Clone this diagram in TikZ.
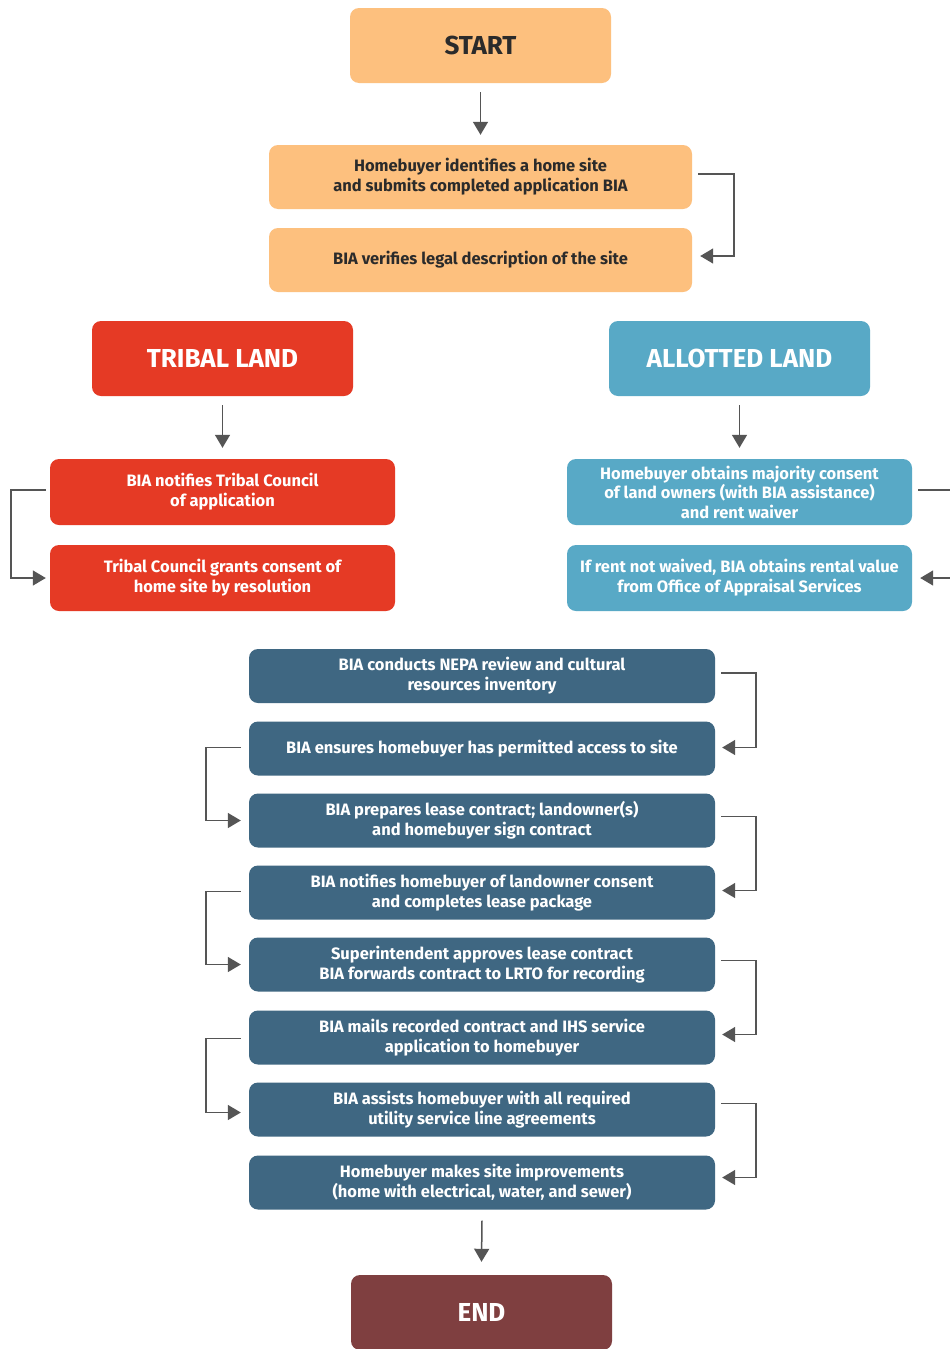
\documentclass[tikz,border=0pt]{standalone}
\usepackage{fontspec}
\setmainfont{Fira Sans}
\usetikzlibrary{arrows.meta,calc}
\definecolor{orng}{HTML}{FDC07E}
\definecolor{trib}{HTML}{E53A25}
\definecolor{allot}{HTML}{58A9C6}
\definecolor{navy}{HTML}{3F6782}
\definecolor{maroon}{HTML}{7F3F40}
\definecolor{lnc}{HTML}{555555}
\definecolor{dtxt}{HTML}{2B2B2B}
\tikzset{
  box/.style={rounded corners=9pt, inner sep=0pt, align=center, font=\bfseries\fontsize{16.5}{20}\selectfont},
  title/.style={box, minimum width=261pt, minimum height=75pt, font=\bfseries\fontsize{26}{30}\selectfont},
  obox/.style={box, fill=orng, text=dtxt, minimum width=423pt, minimum height=64pt},
  tbox/.style={box, fill=trib, text=white, minimum width=345pt, minimum height=66pt},
  abox/.style={box, fill=allot, text=white, minimum width=345pt, minimum height=66pt},
  nbox/.style={box, fill=navy, text=white, minimum width=466pt, minimum height=54pt},
  conn/.style={draw=lnc, line width=1.5pt, -{Triangle[width=15pt,length=13pt]}},
  link/.style={draw=lnc, line width=1.5pt}
}
\begin{document}
\begin{tikzpicture}[x=1pt,y=-1pt]
\useasboundingbox (0,0) rectangle (950,1349);
\fill[white] (0,0) rectangle (950,1349);
\node[title, fill=orng, text=dtxt] (start) at (480.5,45.5) {START};
\node[obox] (o1) at (480.5,177) {Homebuyer identifies a home site\\and submits completed application BIA};
\node[obox] (o2) at (480.5,260) {BIA verifies legal description of the site};
\node[title, fill=trib, text=white] (tribal) at (222.5,358.5) {TRIBAL LAND};
\node[title, fill=allot, text=white] (allotted) at (739.5,358.5) {ALLOTTED LAND};
\node[tbox] (t1) at (222.5,492) {BIA notifies Tribal Council\\of application};
\node[tbox] (t2) at (222.5,578) {Tribal Council grants consent of\\home site by resolution};
\node[abox, font=\bfseries\fontsize{16.5}{19.5}\selectfont] (a1) at (739.5,492) {Homebuyer obtains majority consent\\of land owners (with BIA assistance)\\and rent waiver};
\node[abox] (a2) at (739.5,578) {If rent not waived, BIA obtains rental value\\from Office of Appraisal Services};
\node[nbox] (n1) at (482,676) {BIA conducts NEPA review and cultural\\resources inventory};
\node[nbox] (n2) at (482,748.5) {BIA ensures homebuyer has permitted access to site};
\node[nbox] (n3) at (482,820.5) {BIA prepares lease contract; landowner(s)\\and homebuyer sign contract};
\node[nbox] (n4) at (482,892.5) {BIA notifies homebuyer of landowner consent\\and completes lease package};
\node[nbox] (n5) at (482,964.5) {Superintendent approves lease contract\\BIA forwards contract to LRTO for recording};
\node[nbox] (n6) at (482,1037.5) {BIA mails recorded contract and IHS service\\application to homebuyer};
\node[nbox] (n7) at (482,1109.5) {BIA assists homebuyer with all required\\utility service line agreements};
\node[nbox] (n8) at (482,1182.5) {Homebuyer makes site improvements\\(home with electrical, water, and sewer)};
\node[title, fill=maroon, text=white] (end) at (481.5,1312.5) {END};
% vertical arrows
\draw[conn] ([yshift=-9pt]start.south) -- ([yshift=10pt]o1.north);
\draw[conn] ([yshift=-9pt]tribal.south) -- ([yshift=11pt]t1.north);
\draw[conn] ([yshift=-9pt]allotted.south) -- ([yshift=11pt]a1.north);
\draw[conn] ([yshift=-11pt]n8.south) -- ([yshift=13pt]end.north);
% side connectors
\draw[conn] ([xshift=6pt,yshift=3pt]o1.east) -- ++(36,0) |- ([xshift=8pt,yshift=4pt]o2.east);
\draw[conn] ([xshift=-4pt,yshift=2pt]t1.west) -- ++(-35,0) |- ([xshift=-4pt]t2.west);
\draw[conn] ([xshift=6pt,yshift=2pt]a1.east) -- ++(45,0) |- ([xshift=8pt]a2.east);
\draw[conn] ([xshift=6pt,yshift=3pt]n1.east) -- ++(35,0) |- ([xshift=7pt,yshift=1pt]n2.east);
\draw[conn] ([xshift=-8pt,yshift=1pt]n2.west) -- ++(-35,0) |- ([xshift=-8pt]n3.west);
\draw[conn] ([xshift=6pt,yshift=4pt]n3.east) -- ++(35,0) |- ([xshift=7pt,yshift=2pt]n4.east);
\draw[conn] ([xshift=-8pt,yshift=1pt]n4.west) -- ++(-35,0) |- ([xshift=-8pt]n5.west);
\draw[conn] ([xshift=6pt,yshift=4pt]n5.east) -- ++(35,0) |- ([xshift=7pt,yshift=3pt]n6.east);
\draw[conn] ([xshift=-8pt,yshift=-1pt]n6.west) -- ++(-35,0) |- ([xshift=-8pt,yshift=-3pt]n7.west);
\draw[conn] ([xshift=6pt,yshift=6pt]n7.east) -- ++(35,0) |- ([xshift=7pt,yshift=5pt]n8.east);
\end{tikzpicture}
\end{document}
